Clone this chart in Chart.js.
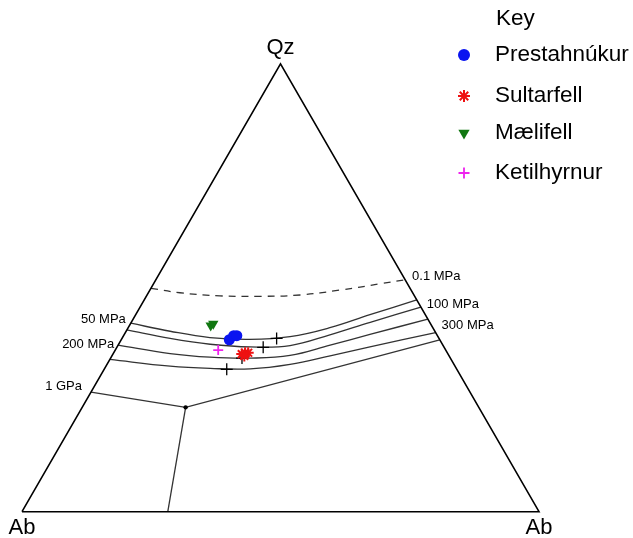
<!DOCTYPE html>
<html>
<head>
<meta charset="utf-8">
<script src="https://cdn.jsdelivr.net/npm/chart.js"></script>
<style>
  body { margin: 0; background: #fff; }
</style>
</head>
<body>
<canvas id="ternaryChart" width="633" height="538"></canvas>
<script>
// corner labels: bottom-left, bottom-right, top
var cornerLabels = ["Ab", "Ab", "Qz"];

// samples, given as Qz % and % of the bottom-right corner
var sampleNames = ["Prestahnúkur", "Sultarfell", "Mælifell", "Ketilhyrnur"];
var prestQz = [38.4, 39.3, 39.3];
var prestRight = [20.9, 21.3, 21.9];
var sultQz = [35.2, 35.5, 35.5, 34.8];
var sultRight = [24.9, 25.4, 26.0, 25.6];
var maeliQz = [41.6, 42.0];
var maeliRight = [15.7, 16.0];
var ketilQz = [36.1];
var ketilRight = [19.9];

// minimum points on the cotectics (black crosses)
var minimaQz = [38.7, 36.7, 34.3, 31.8];
var minimaRight = [29.9, 28.3, 25.4, 23.7];

// cotectic curves for each pressure
var pressureLabels = ["0.1 MPa", "50 MPa", "100 MPa", "200 MPa", "300 MPa", "1 GPa"];
var c01Qz = [49.9, 48.9, 48.2, 48.1, 48.4, 49.5, 50.9, 51.8];
var c01Right = [0, 6.1, 14.2, 22.0, 29.6, 36.8, 43.8, 48.2];
var c50Qz = [42.1, 40.3, 38.9, 38.5, 39.1, 41.1, 44.0, 47.3];
var c50Right = [0, 8.5, 16.9, 24.8, 32.3, 39.0, 45.3, 52.7];
var c100Qz = [40.6, 38.7, 37.4, 36.8, 37.1, 39.5, 42.3, 45.7];
var c100Right = [0, 9.3, 17.7, 25.7, 33.3, 39.8, 46.2, 54.3];
var c200Qz = [37.2, 35.3, 34.5, 34.3, 34.9, 37.2, 39.6, 43.0];
var c200Right = [0, 11.0, 19.1, 27.0, 34.4, 41.0, 47.5, 57.0];
var c300Qz = [34.0, 32.5, 32.0, 31.9, 32.9, 34.8, 36.8, 40.0];
var c300Right = [0, 12.4, 20.4, 28.2, 35.4, 42.2, 48.9, 60.0];
// 1 GPa: cotectic through the triple point, and the boundary down to the base
var gpaQz = [26.7, 23.3, 38.4];
var gpaRight = [0, 20.0, 61.6];
var gpaBaseQz = [23.3, 0];
var gpaBaseRight = [20.0, 28.2];

// ternary (percent) -> x/y of an equilateral triangle with side 100
function toXY(qzArr, rightArr) {
    var pts = [];
    for (var i = 0; i < qzArr.length; i++) {
        pts.push({ x: rightArr[i] + qzArr[i] / 2, y: qzArr[i] * Math.sqrt(3) / 2 });
    }
    return pts;
}

var FONT = '"Liberation Sans", Arial, sans-serif';
var lineGrey = '#333333';

function curveSet(qz, right, dash) {
    return {
        data: toXY(qz, right),
        showLine: true,
        borderColor: lineGrey,
        borderWidth: 1.3,
        borderDash: dash || [],
        pointRadius: 0,
        tension: 0.4,
        fill: false
    };
}

var sampleSets = [
    { label: sampleNames[0], data: toXY(prestQz, prestRight), pointStyle: 'circle', pointRadius: 5.5,
      backgroundColor: '#0a14f0', borderColor: '#0a14f0', borderWidth: 0 },
    { label: sampleNames[1], data: toXY(sultQz, sultRight), pointStyle: 'star', pointRadius: 5.5,
      backgroundColor: '#ee1111', borderColor: '#ee1111', borderWidth: 2 },
    { label: sampleNames[2], data: toXY(maeliQz, maeliRight), pointStyle: 'triangle', pointRotation: 180, pointRadius: 6,
      backgroundColor: '#117711', borderColor: '#117711', borderWidth: 0 },
    { label: sampleNames[3], data: toXY(ketilQz, ketilRight), pointStyle: 'cross', pointRadius: 5,
      backgroundColor: '#ee22ee', borderColor: '#ee22ee', borderWidth: 1.8 }
];

var datasets = sampleSets.concat([
    { data: toXY(minimaQz, minimaRight), pointStyle: 'cross', pointRadius: 6,
      borderColor: '#000', borderWidth: 1.3 },
    { data: toXY([23.3], [20.0]), pointStyle: 'circle', pointRadius: 2.2,
      backgroundColor: '#000', borderColor: '#000', borderWidth: 0 },
    // triangle frame
    { data: toXY([0, 0, 100, 0], [0, 100, 0, 0]), showLine: true, borderColor: '#000',
      borderWidth: 1.6, pointRadius: 0, tension: 0 },
    curveSet(c01Qz, c01Right, [7, 6]),
    curveSet(c50Qz, c50Right),
    curveSet(c100Qz, c100Right),
    curveSet(c200Qz, c200Right),
    curveSet(c300Qz, c300Right),
    { data: toXY(gpaQz, gpaRight), showLine: true, borderColor: lineGrey, borderWidth: 1.3, pointRadius: 0, tension: 0 },
    { data: toXY(gpaBaseQz, gpaBaseRight), showLine: true, borderColor: lineGrey, borderWidth: 1.3, pointRadius: 0, tension: 0 }
]);

// labels, key and corner names drawn on top
var labelPlugin = {
    id: 'ternaryLabels',
    afterDraw: function(chart) {
        var ctx = chart.ctx;
        var sx = chart.scales.x, sy = chart.scales.y;
        function px(qz, right) {
            var p = toXY([qz], [right])[0];
            return { x: sx.getPixelForValue(p.x), y: sy.getPixelForValue(p.y) };
        }
        ctx.save();
        ctx.fillStyle = '#000';
        ctx.textBaseline = 'middle';

        // corners
        ctx.font = '22px ' + FONT;
        ctx.textAlign = 'center';
        var bl = px(0, 0), br = px(0, 100), tp = px(100, 0);
        ctx.fillText(cornerLabels[0], bl.x, bl.y + 16);
        ctx.fillText(cornerLabels[1], br.x, br.y + 16);
        ctx.fillText(cornerLabels[2], tp.x, tp.y - 16);

        // pressure labels
        ctx.font = '13px ' + FONT;
        var e;
        ctx.textAlign = 'left';
        e = px(c01Qz[c01Qz.length - 1], c01Right[c01Right.length - 1]);
        ctx.fillText(pressureLabels[0], e.x + 7, e.y - 3);
        e = px(c100Qz[c100Qz.length - 1], c100Right[c100Right.length - 1]);
        ctx.fillText(pressureLabels[2], e.x + 6, e.y - 3);
        e = px(c300Qz[c300Qz.length - 1], c300Right[c300Right.length - 1]);
        ctx.fillText(pressureLabels[4], e.x + 6, e.y - 7);
        ctx.textAlign = 'right';
        e = px(c50Qz[0], c50Right[0]);
        ctx.fillText(pressureLabels[1], e.x - 5, e.y - 4);
        e = px(c200Qz[0], c200Right[0]);
        ctx.fillText(pressureLabels[3], e.x - 4, e.y - 1);
        e = px(gpaQz[0], gpaRight[0]);
        ctx.fillText(pressureLabels[5], e.x - 9, e.y - 6);

        // key
        ctx.font = '22.5px ' + FONT;
        ctx.textAlign = 'left';
        ctx.fillText('Key', 496, 19);
        var rowY = [55, 96, 133, 173];
        for (var i = 0; i < sampleSets.length; i++) {
            var ds = sampleSets[i];
            ctx.fillStyle = ds.backgroundColor;
            ctx.strokeStyle = ds.borderColor;
            ctx.lineWidth = ds.borderWidth;
            Chart.helpers.drawPoint(ctx, {
                pointStyle: ds.pointStyle,
                rotation: ds.pointRotation || 0,
                radius: ds.pointRadius + 0.5,
                borderWidth: ds.borderWidth
            }, 464, rowY[i]);
            ctx.fillStyle = '#000';
            ctx.fillText(ds.label, 495, rowY[i]);
        }
        ctx.restore();
    }
};

var ternaryChart = new Chart(document.getElementById('ternaryChart').getContext('2d'), {
    type: 'scatter',
    data: { datasets: datasets },
    options: {
        responsive: false,
        animation: false,
        layout: { padding: 0, autoPadding: false },
        scales: {
            x: { type: 'linear', min: -4.255, max: 118.18, display: false },
            y: { type: 'linear', min: -5.087, max: 98.97, display: false }
        },
        plugins: {
            legend: { display: false },
            tooltip: { enabled: false }
        }
    },
    plugins: [labelPlugin]
});
</script>
</body>
</html>
